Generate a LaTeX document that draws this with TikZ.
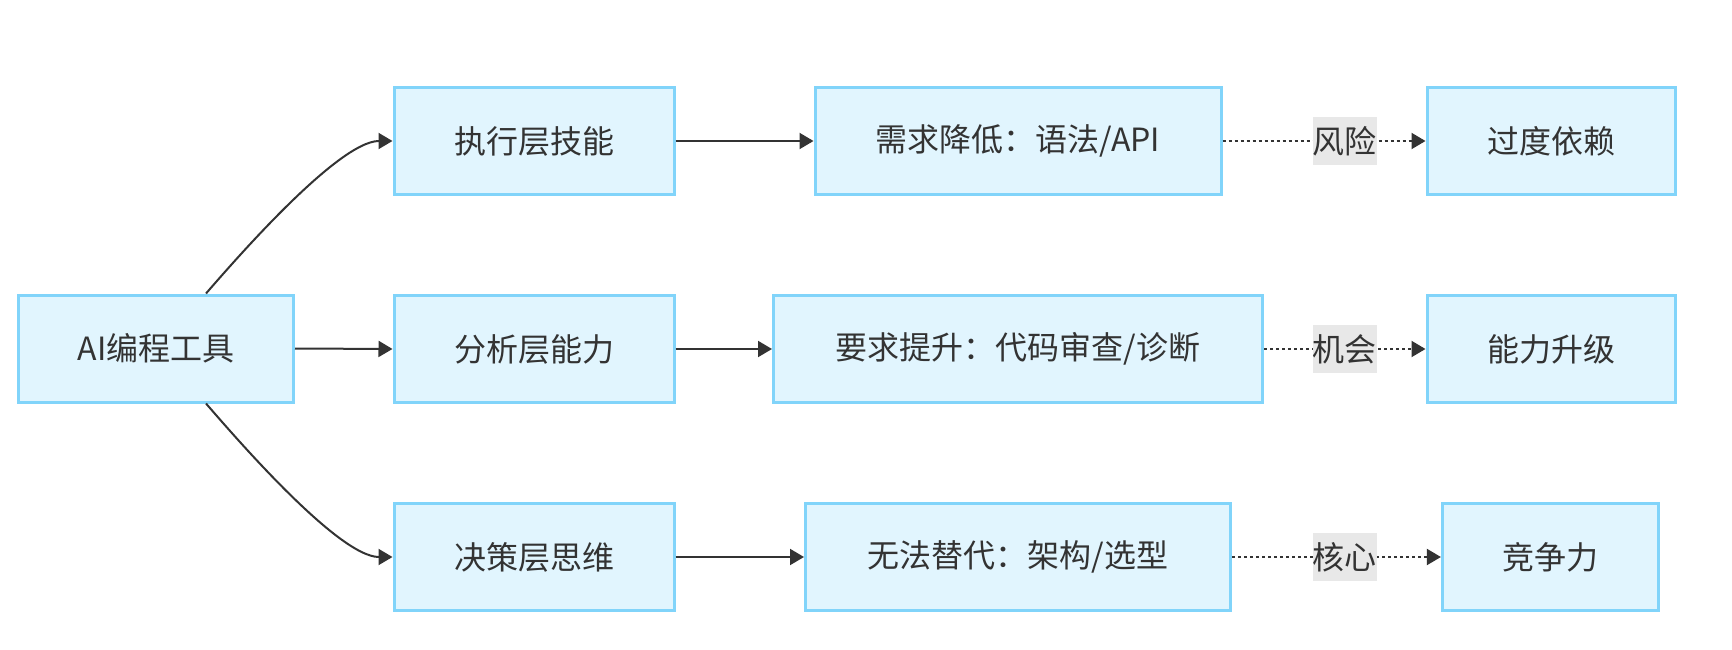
\documentclass[tikz,border=0pt]{standalone}
\usepackage{fontspec}
\setmainfont{Noto Sans CJK SC}
\usetikzlibrary{arrows.meta}
\definecolor{boxfill}{HTML}{E1F5FE}
\definecolor{boxline}{HTML}{81D4FA}
\definecolor{ink}{HTML}{333333}
\definecolor{labfill}{HTML}{E8E8E8}
\tikzset{
  box/.style={draw=boxline, fill=boxfill, line width=3pt, minimum height=107pt,
    inner sep=0pt, text=ink, font=\fontsize{32pt}{38pt}\selectfont},
  lab/.style={fill=labfill, inner sep=0pt, minimum width=64pt, minimum height=48pt,
    text=ink, font=\fontsize{32pt}{38pt}\selectfont},
  solidarrow/.style={draw=ink, line width=2pt, -{Triangle[length=14pt,width=16pt]}},
  dotarrow/.style={draw=ink, line width=2pt, dash pattern=on 3pt off 3pt,
    -{Triangle[length=14pt,width=16pt]}},
}
\begin{document}
\begin{tikzpicture}[x=1pt,y=-1pt]
\useasboundingbox (0,0) rectangle (1732,650);
% nodes
\node[box, minimum width=275pt] (ai) at (156,348.5) {AI编程工具};
\node[box, minimum width=280pt] (e1) at (534,141) {执行层技能};
\node[box, minimum width=280pt] (e2) at (534,349) {分析层能力};
\node[box, minimum width=280pt] (e3) at (534,557) {决策层思维};
\node[box, minimum width=406pt] (f1) at (1018,141) {需求降低：语法/API};
\node[box, minimum width=489pt] (f2) at (1018,349) {要求提升：代码审查/诊断};
\node[box, minimum width=425pt] (f3) at (1018,557) {无法替代：架构/选型};
\node[box, minimum width=248pt] (g1) at (1551,141) {过度依赖};
\node[box, minimum width=248pt] (g2) at (1551,349) {能力升级};
\node[box, minimum width=216pt] (g3) at (1550.4,557) {竞争力};
% curved connectors
\draw[solidarrow] ([xshift=50pt]ai.north) .. controls (232,263.6) and (338,141) .. (e1.west);
\draw[solidarrow] ([xshift=50pt]ai.south) .. controls (232,433.4) and (338,557) .. (e3.west);
\draw[solidarrow] (ai.east) -- (e2.west);
% straight connectors
\draw[solidarrow] (e1.east) -- (f1.west);
\draw[solidarrow] (e2.east) -- (f2.west);
\draw[solidarrow] (e3.east) -- (f3.west);
% dotted connectors
\draw[dotarrow] (f1.east) -- (g1.west);
\draw[dotarrow] (f2.east) -- (g2.west);
\draw[dotarrow] (f3.east) -- (g3.west);
\node[lab] (l1) at (1344.5,141) {风险};
\node[lab] (l2) at (1344.5,349) {机会};
\node[lab] (l3) at (1344.5,557) {核心};
\end{tikzpicture}
\end{document}
